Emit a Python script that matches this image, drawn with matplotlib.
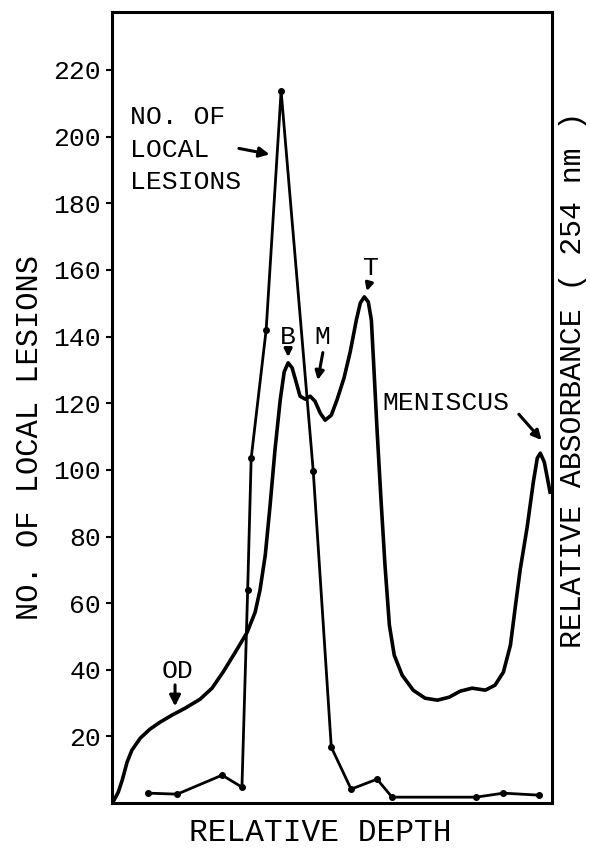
import matplotlib
matplotlib.use('Agg')
import matplotlib.pyplot as plt

# relative depth (0-100) and no. of local lesions (dots joined by straight lines)
lesion_x = [8.2, 14.8, 25.0, 29.5, 30.8, 31.6, 35.0, 38.4, 45.7, 49.8, 54.3, 60.2, 63.6, 82.7, 88.9, 97.0]
lesion_y = [3.0, 2.7, 8.4, 4.8, 63.9, 103.5, 142.0, 213.7, 99.6, 16.8, 4.2, 7.2, 1.8, 1.8, 3.0, 2.4]

abs_x = [0.2, 1.4, 2.3, 3.4, 4.5, 6.4, 8.6, 10.9, 13.6, 16.6, 20.0, 22.7, 25.2, 28.0, 30.7,
         32.5, 33.6, 34.8, 35.9, 37.0, 38.2, 39.1, 40.0, 40.9, 41.8, 42.7, 43.9, 45.0, 46.1,
         47.3, 48.4, 49.8, 51.1, 52.7, 54.1, 55.5, 56.4, 57.3, 58.2, 58.9, 59.5, 60.2, 61.1,
         62.0, 63.0, 64.1, 65.9, 68.4, 71.1, 73.9, 76.6, 79.1, 81.8, 84.8, 87.0, 88.9, 90.5,
         91.6, 92.7, 94.3, 95.7, 96.6, 97.3, 98.2, 98.9, 99.5]
abs_y = [0.3, 3.3, 6.9, 12.3, 15.9, 19.5, 22.2, 24.3, 26.4, 28.5, 31.2, 34.5, 39.3, 45.3, 51.3,
         57.3, 63.9, 74.4, 89.4, 105.9, 121.0, 129.4, 132.1, 130.6, 126.4, 122.1, 121.2, 122.1, 120.6,
         117.0, 114.9, 116.4, 121.0, 127.6, 135.4, 145.0, 150.1, 151.9, 150.4, 145.0, 130.0, 111.9, 90.9,
         71.4, 53.4, 44.4, 38.4, 33.9, 31.5, 30.9, 31.8, 33.6, 34.5, 33.9, 35.4, 39.3, 47.4,
         58.8, 69.9, 82.8, 96.3, 103.5, 105.0, 102.3, 97.5, 93.3]

yticks = [20, 40, 60, 80, 100, 120, 140, 160, 180, 200, 220]

FONT = 'Liberation Mono'
plt.rcParams['font.family'] = FONT

fig = plt.figure(figsize=(5.9, 8.49), dpi=100)
ax = fig.add_axes([0.190, 0.054, 0.746, 0.932])

ax.plot(abs_x, abs_y, color='black', lw=2.6, solid_joinstyle='round')
ax.plot(lesion_x, lesion_y, color='black', lw=2.0, marker='o', ms=4)

ax.set_xlim(0, 100)
ax.set_ylim(0, 237.4)
ax.set_xticks([])
ax.set_yticks(yticks)
ax.tick_params(axis='y', direction='out', length=4, width=1.5, pad=4, labelsize=19)
for s in ax.spines.values():
    s.set_linewidth(2.2)

# annotations
ax.text(4.1, 196.0, 'NO. OF\nLOCAL\nLESIONS', fontsize=19, ha='left', va='center', linespacing=1.45)
ax.annotate('', xy=(36.4, 194.5), xytext=(28.2, 196.6),
            arrowprops=dict(arrowstyle='-|>', color='black', lw=2.2, mutation_scale=15))
ax.text(40.0, 139.9, 'B', fontsize=19, ha='center', va='center')
ax.annotate('', xy=(40.0, 133.0), xytext=(40.0, 137.0),
            arrowprops=dict(arrowstyle='-|>', color='black', lw=2.2, mutation_scale=11))
ax.text(47.7, 139.9, 'M', fontsize=19, ha='center', va='center')
ax.annotate('', xy=(46.6, 126.1), xytext=(48.0, 136.0),
            arrowprops=dict(arrowstyle='-|>', color='black', lw=2.2, mutation_scale=13))
ax.text(58.9, 160.6, 'T', fontsize=19, ha='center', va='center')
ax.annotate('', xy=(57.7, 152.8), xytext=(58.6, 157.0),
            arrowprops=dict(arrowstyle='-|>', color='black', lw=2.2, mutation_scale=11))
ax.text(61.4, 120.0, 'MENISCUS', fontsize=19, ha='left', va='center')
ax.annotate('', xy=(98.0, 108.3), xytext=(92.0, 117.3),
            arrowprops=dict(arrowstyle='-|>', color='black', lw=2.2, mutation_scale=14))
ax.text(14.8, 39.6, 'OD', fontsize=19, ha='center', va='center')
ax.annotate('', xy=(14.3, 28.2), xytext=(14.3, 36.3),
            arrowprops=dict(arrowstyle='-|>', color='black', lw=2.2, mutation_scale=16))

# axis titles
fig.text(30 / 590, 1 - 437 / 849, 'NO. OF LOCAL LESIONS', rotation=90, fontsize=22,
         ha='center', va='center')
fig.text(573 / 590, 1 - 380 / 849, 'RELATIVE ABSORBANCE ( 254 nm )', rotation=90, fontsize=21.5,
         ha='center', va='center')
fig.text(320 / 590, 1 - 833 / 849, 'RELATIVE DEPTH', fontsize=22.5, ha='center', va='center')

fig.savefig('out.png', dpi=100)
